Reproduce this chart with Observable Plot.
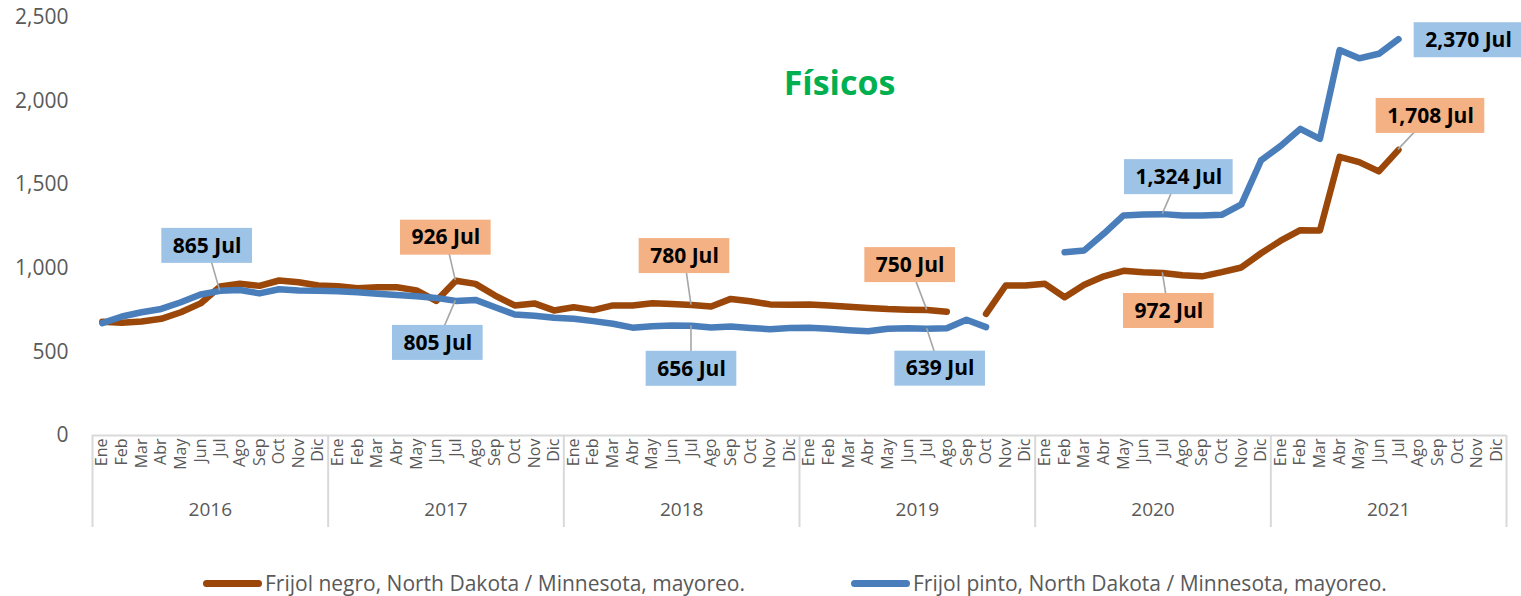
<!DOCTYPE html>
<html>
<head>
<meta charset="utf-8">
<script src="https://cdn.jsdelivr.net/npm/d3@7"></script>
<script src="https://cdn.jsdelivr.net/npm/@observablehq/plot@0.6"></script>
<style>
  body { margin: 0; background: #fff; font-family: "Open Sans", sans-serif; }
  #wrap { position: relative; width: 1521px; height: 596px; overflow: hidden; }
  #wrap svg { display: block; }
  .leg { position: absolute; top: 569px; display: flex; align-items: center; height: 28px;
         font-family: "Open Sans", sans-serif; font-size: 21px; color: #595959; white-space: nowrap; }
  .sw { width: 59px; height: 7px; border-radius: 4px; margin-right: 3px; }
</style>
</head>
<body>
<div id="wrap"></div>
<script>
// ---------- data ----------
const years = [2016, 2017, 2018, 2019, 2020, 2021];
const months = ["Ene","Feb","Mar","Abr","May","Jun","Jul","Ago","Sep","Oct","Nov","Dic"];
const seriesNames = [
  "Frijol negro, North Dakota / Minnesota, mayoreo.",
  "Frijol pinto, North Dakota / Minnesota, mayoreo."
];
// Frijol negro (brown), Ene 2016 .. Dic 2021
const negro = [
  680, 675, 682, 698, 737, 790, 891, 908, 895, 927, 917, 897,
  893, 881, 886, 887, 868, 805, 926, 907, 837, 778, 790, 748,
  767, 750, 778, 778, 791, 787, 780, 772, 817, 803, 784, 782,
  783, 778, 770, 763, 756, 752, 750, 740, null, 727, 897, 897,
  907, 827, 902, 952, 985, 977, 972, 958, 952, 977, 1005, 1090,
  1165, 1228, 1226, 1667, 1635, 1580, 1708, null, null, null, null, null
];
// Frijol pinto (blue), Ene 2016 .. Dic 2021
const pinto = [
  672, 712, 737, 757, 797, 843, 865, 870, 850, 875, 867, 865,
  863, 857, 848, 841, 833, 823, 805, 811, 767, 724, 716, 704,
  698, 684, 668, 645, 654, 658, 656, 646, 652, 643, 636, 643,
  644, 638, 630, 624, 638, 641, 639, 642, 692, 648, null, null,
  null, 1096, 1107, 1208, 1316, 1322, 1324, 1316, 1316, 1320, 1382, 1645,
  1732, 1834, 1774, 2305, 2256, 2283, 2370, null, null, null, null, null
];
const yTicks = [0, 500, 1000, 1500, 2000, 2500];
const title = "Físicos";
// annotated points: series index (0 negro, 1 pinto), year, month
const annotSeries = [1, 0, 1, 0, 1, 0, 1, 1, 0, 1, 0];
const annotYears  = [2016, 2017, 2017, 2018, 2018, 2019, 2019, 2020, 2020, 2021, 2021];
const annotMonth  = "Jul";

// ---------- layout / style ----------
const W = 1521, H = 560, mL = 92, mR = 15, mT = 17, mB = 125;
const colors = ["#9A4709", "#4A7EBB"];
const boxColors = ["#F4B183", "#9DC3E6"];
// label box centre offsets from the data point (px) and whether a leader line is drawn
const labelOffsets = [
  [-13, -45], [-10, -43], [-18, 42], [-7, -49], [0, 43],
  [-17, -45], [13, 40], [16, -37], [6, 38], [70, 1], [32, -34]
];
const labelLeader = [true, true, true, true, true, true, true, true, true, false, true];

const keys = years.flatMap(y => months.map(m => `${y}-${m}`));
const step = (W - mL - mR) / keys.length;
const fmt = d3.format(",");
const rows = [negro, pinto].map((arr, s) =>
  keys.map((k, i) => ({k, v: arr[i] == null ? NaN : arr[i], s})));
const annots = annotSeries.map((s, i) => {
  const k = `${annotYears[i]}-${annotMonth}`;
  const v = [negro, pinto][s][keys.indexOf(k)];
  return {k, v, s, t: `${fmt(v)} ${annotMonth}`, dx: labelOffsets[i][0], dy: labelOffsets[i][1], leader: labelLeader[i]};
});

const plot = Plot.plot({
  width: W, height: H,
  marginLeft: mL, marginRight: mR, marginTop: mT, marginBottom: mB,
  style: {fontFamily: "Open Sans, sans-serif", background: "white", overflow: "visible"},
  x: {type: "point", domain: keys, padding: 0.5, axis: null, label: null},
  y: {domain: [0, 2500], axis: null, label: null},
  marks: [
    Plot.axisY(yTicks, {tickSize: 0, tickPadding: 24, tickFormat: fmt, fontSize: 21, fill: "#595959", label: null}),
    Plot.axisX(keys, {tickSize: 0, tickPadding: 3, tickRotate: -90, tickFormat: k => k.split("-")[1],
                      fontSize: 16, fill: "#595959", label: null}),
    Plot.ruleY([0], {stroke: "#D9D9D9", strokeWidth: 2}),
    Plot.ruleX(years.map(y => `${y}-Ene`), {dx: -step / 2, stroke: "#D9D9D9", strokeWidth: 2,
      insetTop: H - mT - mB, insetBottom: -92}),
    Plot.ruleX([`${years[years.length - 1]}-Dic`], {dx: step / 2, stroke: "#D9D9D9", strokeWidth: 2,
      insetTop: H - mT - mB, insetBottom: -92}),
    Plot.text(years, {x: y => `${y}-Jun`, dx: step / 2, frameAnchor: "bottom", dy: 80,
      text: d => String(d), fontSize: 19, fill: "#595959"}),
    Plot.text([title], {frameAnchor: "top-left", dx: 747, dy: 53, textAnchor: "middle",
      fill: "#00B050", fontSize: 34, fontWeight: "bold"}),
    Plot.line(rows[0], {x: "k", y: "v", stroke: colors[0], strokeWidth: 6.5,
      strokeLinejoin: "round", strokeLinecap: "round"}),
    Plot.line(rows[1], {x: "k", y: "v", stroke: colors[1], strokeWidth: 6.5,
      strokeLinejoin: "round", strokeLinecap: "round"}),
    ...annots.map((a, i) => Plot.text([a], {x: "k", y: "v", text: "t", dx: a.dx, dy: a.dy,
      fontSize: 21, fontWeight: "bold", fill: "#000", className: `ann ann-${i}`}))
  ]
});

const wrap = document.getElementById("wrap");
wrap.appendChild(plot);

// label boxes + leader lines, positioned with the plot's own scales
const xs = plot.scale("x"), ys = plot.scale("y");
const svg = d3.select(plot);
annots.forEach((a, i) => {
  const g = svg.select(`g.ann-${i}`);
  const node = g.node();
  const bb = node.getBBox();
  const px = xs.apply(a.k), py = ys.apply(a.v);
  const cx = px + a.dx, cy = py + a.dy;
  const bw = bb.width + 22, bh = 35;
  const layer = d3.select(node.parentNode).insert("g", () => node);
  if (a.leader) {
    layer.append("line").attr("x1", px).attr("y1", py).attr("x2", cx).attr("y2", cy)
      .attr("stroke", "#A6A6A6").attr("stroke-width", 1.6);
  }
  layer.append("rect").attr("x", cx - bw / 2).attr("y", cy - bh / 2)
    .attr("width", bw).attr("height", bh).attr("fill", boxColors[a.s]);
});

// legend
const legX = [203, 851];
seriesNames.forEach((name, i) => {
  const d = document.createElement("div");
  d.className = "leg";
  d.style.left = legX[i] + "px";
  d.innerHTML = `<div class="sw" style="background:${colors[i]}"></div><span>${name}</span>`;
  wrap.appendChild(d);
});
</script>
</body>
</html>
